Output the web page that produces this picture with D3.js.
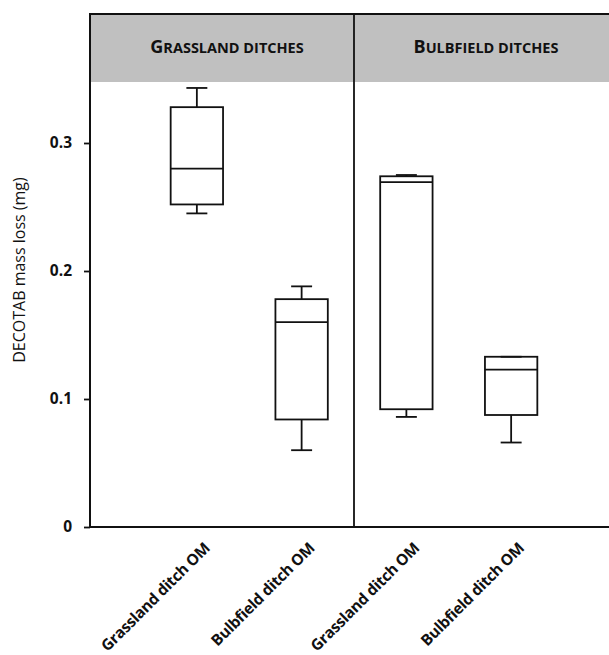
<!DOCTYPE html>
<html>
<head>
<meta charset="utf-8">
<script src="https://cdn.jsdelivr.net/npm/d3@7"></script>
<style>
  body { margin: 0; background: #fff; }
  text { font-family: "Open Sans", "DejaVu Sans", sans-serif; fill: #111; }
</style>
</head>
<body>
<svg id="chart"></svg>
<script>
// data
const panels = ['Grassland ditches', 'Bulbfield ditches'];
const boxGroups = ['Grassland ditches', 'Grassland ditches', 'Bulbfield ditches', 'Bulbfield ditches'];
const categories = ['Grassland ditch OM', 'Bulbfield ditch OM', 'Grassland ditch OM', 'Bulbfield ditch OM'];
const whiskerHigh = [0.343, 0.188, 0.275, 0.133];
const q3 = [0.328, 0.178, 0.274, 0.133];
const median = [0.280, 0.160, 0.2695, 0.123];
const q1 = [0.252, 0.084, 0.092, 0.0875];
const whiskerLow = [0.245, 0.060, 0.086, 0.066];
const yTicks = [0, 0.1, 0.2, 0.3];

class BoxChart {

  constructor(_config) {
    this.config = {
      parentElement: _config.parentElement,
      containerWidth: 609,
      containerHeight: 655,
      margin: { top: 15, right: -9, bottom: 128, left: 90 },
      headerHeight: 67
    }
    this.data = categories.map((c, i) => ({
      key: boxGroups[i] + '|' + c,
      group: boxGroups[i],
      category: c,
      low: whiskerLow[i], q1: q1[i], median: median[i], q3: q3[i], high: whiskerHigh[i]
    }));
    this.initVis();
  }

  initVis() {
    let vis = this;
    vis.config.width = vis.config.containerWidth - vis.config.margin.left - vis.config.margin.right;
    vis.config.height = vis.config.containerHeight - vis.config.margin.top - vis.config.margin.bottom;

    vis.svg = d3.select(vis.config.parentElement)
      .attr('width', vis.config.containerWidth)
      .attr('height', vis.config.containerHeight);

    vis.chart = vis.svg.append('g')
      .attr('transform', `translate(${vis.config.margin.left},${vis.config.margin.top})`);

    vis.xScale = d3.scaleBand()
      .domain(vis.data.map(d => d.key))
      .range([0, vis.config.width])
      .paddingInner(0.5)
      .paddingOuter(0.77);

    vis.yScale = d3.scaleLinear()
      .domain([0, 0.4])
      .range([vis.config.height, 0]);

    vis.yAxis = d3.axisLeft(vis.yScale)
      .tickValues(yTicks)
      .tickSize(6)
      .tickPadding(12)
      .tickFormat(d => d === 0 ? '0' : d3.format('.1f')(d));

    vis.renderVis();
  }

  renderVis() {
    let vis = this;
    const h = vis.config.height, w = vis.config.width;
    const bw = vis.xScale.bandwidth();
    const cx = d => vis.xScale(d.key) + bw / 2;
    const capW = bw * 0.4;

    // grey header band
    vis.chart.append('rect')
      .attr('x', 0).attr('y', 0)
      .attr('width', w).attr('height', vis.config.headerHeight)
      .attr('fill', '#c0c0c0');

    // panel extents
    const panelRange = panels.map(p => {
      const ds = vis.data.filter(d => d.group === p);
      return [vis.xScale(ds[0].key) - vis.xScale.step() * vis.xScale.paddingInner() / 2,
              vis.xScale(ds[ds.length - 1].key) + bw + vis.xScale.step() * vis.xScale.paddingInner() / 2];
    });
    panelRange[0][0] = 0;
    panelRange[panelRange.length - 1][1] = w;

    // header titles in small caps
    panels.forEach((p, i) => {
      const t = vis.chart.append('text')
        .attr('x', (panelRange[i][0] + panelRange[i][1]) / 2 + (i === 0 ? 5 : 0))
        .attr('y', 38)
        .attr('text-anchor', 'middle')
        .attr('font-weight', 'bold');
      t.append('tspan').attr('font-size', 18).text(p[0].toUpperCase());
      t.append('tspan').attr('font-size', 14.5).text(p.slice(1).toUpperCase());
    });

    // frame lines
    vis.chart.append('line')
      .attr('x1', -1).attr('x2', w).attr('y1', -1).attr('y2', -1)
      .attr('stroke', '#111').attr('stroke-width', 2);
    vis.chart.append('line')
      .attr('x1', panelRange[0][1]).attr('x2', panelRange[0][1])
      .attr('y1', -1).attr('y2', h)
      .attr('stroke', '#111').attr('stroke-width', 1.8);

    // boxes
    const boxes = vis.chart.selectAll('.box')
      .data(vis.data)
      .join('g')
      .attr('class', 'box')
      .attr('stroke', '#111')
      .attr('stroke-width', 1.8)
      .attr('fill', 'none');

    boxes.append('line')
      .attr('x1', cx).attr('x2', cx)
      .attr('y1', d => vis.yScale(d.high)).attr('y2', d => vis.yScale(d.q3));
    boxes.append('line')
      .attr('x1', cx).attr('x2', cx)
      .attr('y1', d => vis.yScale(d.q1)).attr('y2', d => vis.yScale(d.low));
    boxes.append('line')
      .attr('x1', d => cx(d) - capW / 2).attr('x2', d => cx(d) + capW / 2)
      .attr('y1', d => vis.yScale(d.high)).attr('y2', d => vis.yScale(d.high));
    boxes.append('line')
      .attr('x1', d => cx(d) - capW / 2).attr('x2', d => cx(d) + capW / 2)
      .attr('y1', d => vis.yScale(d.low)).attr('y2', d => vis.yScale(d.low));
    boxes.append('rect')
      .attr('x', d => vis.xScale(d.key))
      .attr('width', bw)
      .attr('y', d => vis.yScale(d.q3))
      .attr('height', d => vis.yScale(d.q1) - vis.yScale(d.q3));
    boxes.append('line')
      .attr('x1', d => vis.xScale(d.key)).attr('x2', d => vis.xScale(d.key) + bw)
      .attr('y1', d => vis.yScale(d.median)).attr('y2', d => vis.yScale(d.median));

    // y axis
    vis.yAxisGroup = vis.chart.append('g')
      .attr('class', 'y-axis')
      .call(vis.yAxis);
    vis.yAxisGroup.select('.domain').remove();
    vis.yAxisGroup.selectAll('.tick line').attr('stroke', '#111').attr('stroke-width', 1.8);
    vis.yAxisGroup.selectAll('.tick text')
      .attr('font-size', 15.5).attr('font-weight', 'bold')
      .attr('font-family', '"Open Sans", sans-serif').attr('fill', '#111');
    vis.chart.append('line')
      .attr('x1', 0).attr('x2', 0).attr('y1', -1).attr('y2', h)
      .attr('stroke', '#111').attr('stroke-width', 2);

    // x axis baseline and rotated labels
    vis.chart.append('line')
      .attr('x1', 0).attr('x2', w).attr('y1', h).attr('y2', h)
      .attr('stroke', '#111').attr('stroke-width', 2);
    vis.chart.selectAll('.x-label')
      .data(vis.data)
      .join('text')
      .attr('class', 'x-label')
      .attr('text-anchor', 'end')
      .attr('font-size', 15.5)
      .attr('font-weight', 'bold')
      .attr('letter-spacing', -0.3)
      .attr('transform', d => `translate(${cx(d) + 14},${h + 22}) rotate(-45)`)
      .text(d => d.category);

    // y axis title
    vis.svg.append('text')
      .attr('transform', `translate(25,${vis.config.margin.top + 255}) rotate(-90)`)
      .attr('text-anchor', 'middle')
      .attr('font-size', 16)
      .text('DECOTAB mass loss (mg)');
  }
}

new BoxChart({ parentElement: '#chart' });
</script>
</body>
</html>
